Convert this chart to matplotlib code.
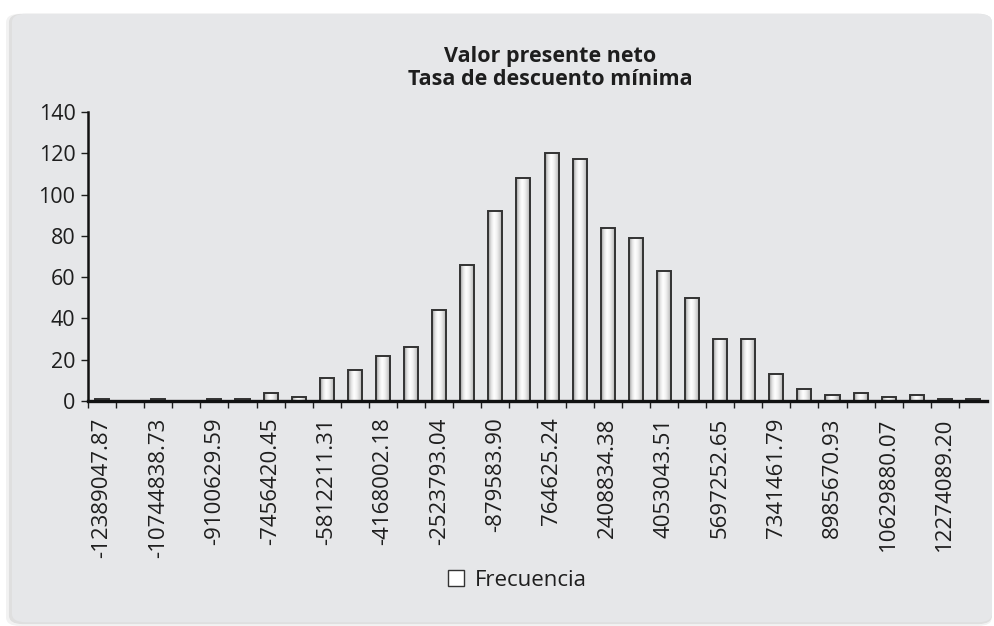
import numpy as np
import matplotlib
matplotlib.use("Agg")
import matplotlib.pyplot as plt
from matplotlib.colors import LinearSegmentedColormap
from matplotlib.patches import FancyBboxPatch, Patch

plt.rcParams['font.family'] = ['Open Sans', 'DejaVu Sans']

# Frequency of each NPV bin (simulation histogram)
counts = [1, 0, 1, 0, 1, 1, 4, 2, 11, 15, 22, 26, 44, 66, 92, 108,
          120, 117, 84, 79, 63, 50, 30, 30, 13, 6, 3, 4, 2, 3, 1, 1]

# Bin labels shown on every other bar
bin_labels = ['-12389047.87', '-10744838.73', '-9100629.59', '-7456420.45',
              '-5812211.31', '-4168002.18', '-2523793.04', '-879583.90',
              '764625.24', '2408834.38', '4053043.51', '5697252.65',
              '7341461.79', '8985670.93', '10629880.07', '12274089.20']

title_lines = ['Valor presente neto', 'Tasa de descuento mínima']
legend_label = 'Frecuencia'
y_ticks = [0, 20, 40, 60, 80, 100, 120, 140]

bg = '#e6e7e9'
txt = '#1e1e1e'
fig = plt.figure(figsize=(9.95, 6.26), dpi=100)
fig.patch.set_facecolor('white')

# rounded panel with a faint shadow
for pad, a in [(0.006, 0.05), (0.003, 0.08)]:
    fig.patches.append(FancyBboxPatch((0.012 - pad, 0.006 - pad), 0.985 + pad, 0.972 + pad,
                                      boxstyle='round,pad=0,rounding_size=0.014',
                                      transform=fig.transFigure, facecolor='black',
                                      edgecolor='none', alpha=a, zorder=-3))
fig.patches.append(FancyBboxPatch((0.012, 0.006), 0.985, 0.972,
                                  boxstyle='round,pad=0,rounding_size=0.014',
                                  transform=fig.transFigure, facecolor=bg,
                                  edgecolor='none', zorder=-2))

ax = fig.add_axes([0.0884, 0.3594, 0.9036, 0.4617])
ax.set_facecolor('none')

x = np.arange(len(counts))
bars = ax.bar(x, counts, width=0.5, color='white', edgecolor='#333333', linewidth=1.4, zorder=3)
for b in bars:
    b.set_facecolor('none')

# cylinder-like shading inside every bar
shade = LinearSegmentedColormap.from_list(
    'shade', ['#9a9a9a', '#e2e2e2', '#ffffff', '#f2f2f2', '#d0d0d0', '#a0a0a0'])
grad = np.linspace(0, 1, 64).reshape(1, -1)
for b in bars:
    h = b.get_height()
    if h <= 0:
        continue
    x0 = b.get_x()
    im = ax.imshow(grad, cmap=shade, aspect='auto', zorder=2,
                   extent=(x0, x0 + b.get_width(), 0, h), interpolation='bilinear')
    im.set_clip_path(b)

ax.set_xlim(-0.5, len(counts) - 0.5)
ax.set_ylim(0, 140)
ax.set_yticks(y_ticks)
ax.tick_params(axis='y', labelsize=15.5, length=5, width=1, pad=4, colors=txt)

ax.set_xticks(x[::2])
ax.set_xticklabels(bin_labels, rotation=90, fontsize=16, color=txt)
ax.set_xticks(np.arange(-0.5, len(counts) - 0.5, 1), minor=True)
ax.tick_params(axis='x', which='major', length=0, pad=12)
ax.tick_params(axis='x', which='minor', length=5, width=1, color=txt)

for s in ['top', 'right']:
    ax.spines[s].set_visible(False)
ax.spines['left'].set_linewidth(1.8)
ax.spines['bottom'].set_linewidth(2.4)
ax.spines['left'].set_color('#111111')
ax.spines['bottom'].set_color('#111111')
ax.spines['bottom'].set_zorder(4)

fig.text(0.553, 0.9105, title_lines[0], ha='center', va='center',
         fontsize=15.5, fontweight='bold', color=txt)
fig.text(0.553, 0.8735, title_lines[1], ha='center', va='center',
         fontsize=15.5, fontweight='bold', color=txt)

handle = Patch(facecolor='white', edgecolor='#333333', linewidth=1.0)
fig.legend([handle], [legend_label], loc='center', bbox_to_anchor=(0.52, 0.073),
           frameon=False, fontsize=16, handlelength=0.7, handleheight=0.7,
           handletextpad=0.5, labelcolor=txt)

fig.savefig('out.png', dpi=100, facecolor='white')
